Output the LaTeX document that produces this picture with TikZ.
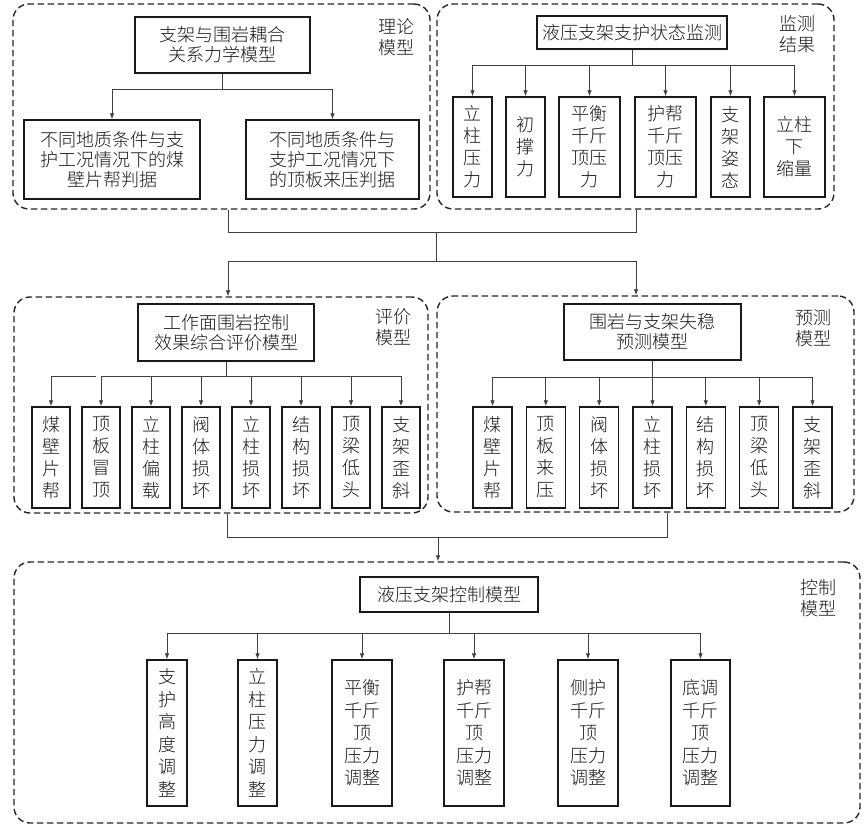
\documentclass[tikz,border=0pt]{standalone}
\usepackage{fontspec}
\newfontfamily\cjk{Noto Sans CJK SC}[UprightFont=* Light]
\usetikzlibrary{arrows.meta}
\begin{document}
\begin{tikzpicture}[x=1pt,y=-1pt,
  frame/.style={draw=black!85, line width=1.4pt, dash pattern=on 6.5pt off 3.5pt, rounded corners=16pt, inner sep=0pt},
  box/.style={draw=black!90, line width=1.4pt, inner sep=0pt, align=center, text=black!90, font=\cjk\fontsize{18pt}{20pt}\selectfont},
  vbox/.style={box, font=\cjk\fontsize{18pt}{22pt}\selectfont},
  wbox/.style={box, font=\cjk\fontsize{18pt}{22.5pt}\selectfont},
  lbl/.style={align=center, inner sep=0pt, text=black!90, font=\cjk\fontsize{18pt}{21pt}\selectfont},
  conn/.style={draw=black!75, line width=0.8pt},
  arr/.style={conn, -{Latex[length=6pt,width=4.5pt]}}
]
\useasboundingbox (0,0) rectangle (864,832);

% ---------- frames ----------
\node[frame, minimum width=417pt, minimum height=205pt] (F1) at (221.5,106.5) {};
\node[frame, minimum width=397pt, minimum height=205pt] (F2) at (635.5,106.5) {};
\node[frame, minimum width=414pt, minimum height=216pt] (F3) at (221,405) {};
\node[frame, minimum width=417pt, minimum height=216pt] (F4) at (645.5,404) {};
\node[frame, minimum width=846pt, minimum height=261pt] (F5) at (437,692.5) {};

% ---------- labels ----------
\node[lbl] (L1) at (396,37) {理论\\模型};
\node[lbl] (L2) at (797,34) {监测\\结果};
\node[lbl] (L3) at (393,327) {评价\\模型};
\node[lbl] (L4) at (813,328) {预测\\模型};
\node[lbl] (L5) at (818,598) {控制\\模型};

% ---------- top left ----------
\node[box, minimum width=175pt, minimum height=56pt] (T1) at (222.5,45) {支架与围岩耦合\\关系力学模型};
\node[box, minimum width=176pt, minimum height=79pt] (A1) at (112,159.5) {不同地质条件与支\\护工况情况下的煤\\壁片帮判据};
\node[box, minimum width=173pt, minimum height=79pt] (A2) at (332.5,159.5) {不同地质条件与\\支护工况情况下\\的顶板来压判据};
\draw[conn] (T1.south) -- ++(0,16) coordinate (j1);
\draw[arr] (j1) -| (A1.north);
\draw[arr] (j1) -| (A2.north);

% ---------- top right ----------
\node[box, minimum width=190pt, minimum height=33pt] (T2) at (632,32.5) {液压支架支护状态监测};
\node[vbox, minimum width=39pt, minimum height=100pt] (B1) at (472.5,147) {立\\柱\\压\\力};
\node[vbox, minimum width=39pt, minimum height=100pt] (B2) at (525.5,147) {初\\撑\\力};
\node[vbox, minimum width=61pt, minimum height=100pt] (B3) at (589.5,147) {平衡\\千斤\\顶压\\力};
\node[vbox, minimum width=61pt, minimum height=100pt] (B4) at (665.5,147) {护帮\\千斤\\顶压\\力};
\node[vbox, minimum width=39pt, minimum height=100pt] (B5) at (730.5,147) {支\\架\\姿\\态};
\node[vbox, minimum width=61pt, minimum height=100pt] (B6) at (794.5,147) {立柱\\下\\缩量};
\draw[conn] (T2.south) -- ++(0,16) coordinate (j2);
\foreach \b in {B1,B2,B3,B4,B5,B6} {\draw[arr] (j2) -| (\b.north);}

% ---------- middle left ----------
\node[box, minimum width=176pt, minimum height=57pt] (T3) at (226,332.5) {工作面围岩控制\\效果综合评价模型};
\foreach \n/\t [count=\i from 0] in {C1/{煤\\壁\\片\\帮}, C2/{顶\\板\\冒\\顶}, C3/{立\\柱\\偏\\载}, C4/{阀\\体\\损\\坏}, C5/{立\\柱\\损\\坏}, C6/{结\\构\\损\\坏}, C7/{顶\\梁\\低\\头}, C8/{支\\架\\歪\\斜}}
  {\node[vbox, minimum width=38pt, minimum height=101pt] (\n) at (51+50*\i,457.5) {\t};}
\draw[conn] (T3.south) -- ++(0,15) coordinate (j3);
\foreach \b in {C2,C3,C4,C5,C6,C7,C8} {\draw[arr] (j3) -| (\b.north);}
\draw[arr] ([xshift=-5pt]C2.north |- j3) -| (C1.north);

% ---------- middle right ----------
\node[box, minimum width=177pt, minimum height=56pt] (T4) at (652.5,332) {围岩与支架失稳\\预测模型};
\foreach \n/\t [count=\i from 0] in {D1/{煤\\壁\\片\\帮}, D2/{顶\\板\\来\\压}, D3/{阀\\体\\损\\坏}, D4/{立\\柱\\损\\坏}, D5/{结\\构\\损\\坏}, D6/{顶\\梁\\低\\头}, D7/{支\\架\\歪\\斜}}
  {\node[vbox, minimum width=39pt, minimum height=101pt] (\n) at (492.5+53.33*\i,457.5) {\t};}
\draw[conn] (T4.south) -- ++(0,17) coordinate (j4);
\foreach \b in {D1,D2,D3,D4,D5,D6,D7} {\draw[arr] (j4) -| (\b.north);}

% ---------- bottom ----------
\node[box, minimum width=178pt, minimum height=35pt] (T5) at (449,594.5) {液压支架控制模型};
\node[wbox, minimum width=40pt, minimum height=146pt] (E1) at (167,733) {支\\护\\高\\度\\调\\整};
\node[wbox, minimum width=39pt, minimum height=146pt] (E2) at (257.5,733) {立\\柱\\压\\力\\调\\整};
\node[wbox, minimum width=60pt, minimum height=146pt] (E3) at (362,733) {平衡\\千斤\\顶\\压力\\调整};
\node[wbox, minimum width=60pt, minimum height=146pt] (E4) at (474,733) {护帮\\千斤\\顶\\压力\\调整};
\node[wbox, minimum width=60pt, minimum height=146pt] (E5) at (588,733) {侧护\\千斤\\顶\\压力\\调整};
\node[wbox, minimum width=59pt, minimum height=146pt] (E6) at (700.5,733) {底调\\千斤\\顶\\压力\\调整};
\draw[conn] (T5.south) -- ++(0,21) coordinate (j5);
\foreach \b in {E1,E2,E3,E4,E5,E6} {\draw[arr] (j5) -| (\b.north);}

% ---------- links between blocks ----------
\coordinate (h1L) at (228,232);
\coordinate (h1R) at (636,232);
\coordinate (h1M) at (436,232);
\coordinate (h2M) at (436,261);
\coordinate (h2L) at (228,261);
\coordinate (h2R) at (636,261);
\draw[conn] (F1.south -| h1L) -- (h1L) -- (h1R) -- (F2.south -| h1R);
\draw[conn] (h1M) -- (h2M);
\draw[arr] (h2M) -- (h2L) -- (F3.north -| h2L);
\draw[arr] (h2M) -- (h2R) -- (F4.north -| h2R);

\coordinate (g1L) at (227,537);
\coordinate (g1R) at (667,537);
\coordinate (g1M) at (438,537);
\draw[conn] (F3.south -| g1L) -- (g1L) -- (g1R) -- (F4.south -| g1R);
\draw[arr] (g1M) -- (F5.north -| g1M);
\end{tikzpicture}
\end{document}
